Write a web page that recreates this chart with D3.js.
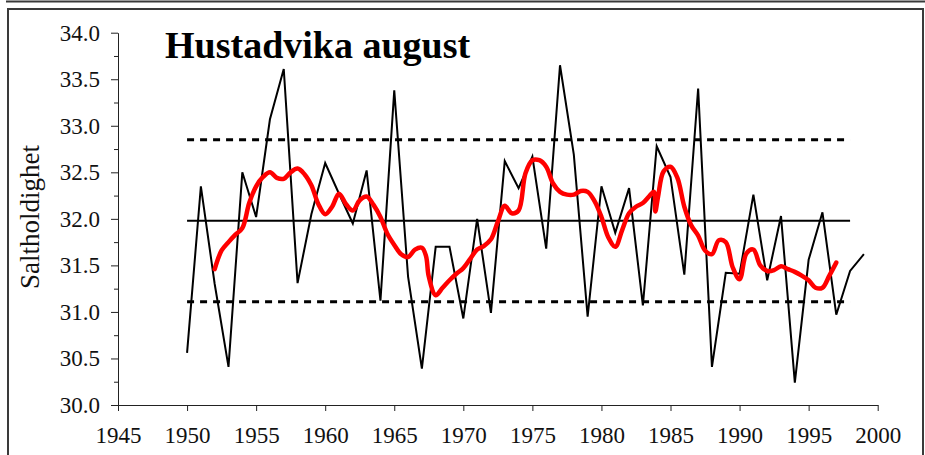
<!DOCTYPE html>
<html>
<head>
<meta charset="utf-8">
<script src="https://cdn.jsdelivr.net/npm/d3@7"></script>
<style>
  html, body { margin:0; padding:0; background:#fff; }
  #chart svg { display:block; }
  .axis path, .axis line { stroke:#222; stroke-width:1; }
  .axis text { font-family:"Liberation Serif","Times New Roman",serif; font-size:23px; fill:#111; }
  .frame { fill:none; stroke:#3a3a3a; stroke-width:2; }
</style>
</head>
<body>
<div id="chart"></div>
<script>
// Hustadvika august — salinity per year, 5-yr smoothed curve, mean and +/- 1 std
const years = [1950,1951,1952,1953,1954,1955,1956,1957,1958,1959,
               1960,1961,1962,1963,1964,1965,1966,1967,1968,1969,
               1970,1971,1972,1973,1974,1975,1976,1977,1978,1979,
               1980,1981,1982,1983,1984,1985,1986,1987,1988,1989,
               1990,1991,1992,1993,1994,1995,1996,1997,1998,1999];
const salinity = [30.56,32.35,31.30,30.41,32.50,32.02,33.07,33.61,31.31,32.05,
                  32.60,32.27,31.95,32.52,31.12,33.38,31.38,30.39,31.70,31.70,
                  30.93,32.00,30.99,32.62,32.33,32.67,31.68,33.65,32.69,30.95,
                  32.35,31.85,32.33,31.07,32.78,32.45,31.40,33.40,30.41,31.42,
                  31.41,32.26,31.34,32.03,30.24,31.56,32.07,30.97,31.44,31.62];

// smoothed curve
const trendYears = [1952,1952.5,1953,1953.5,1954,1954.5,1955,1955.5,1956,1956.5,1957,1957.5,1958,1958.5,1959,1959.5,
                    1960,1960.5,1961,1961.5,1962,1962.5,1963,1963.5,1964,1964.5,1965,1965.5,1966,1966.5,1967,1967.3,1967.5,
                    1968,1968.5,1969,1969.5,1970,1970.5,1971,1971.5,1972,1972.5,1973,1973.5,1974,1974.5,1975,1975.5,
                    1976,1976.5,1977,1977.5,1978,1978.5,1979,1979.5,1980,1980.5,1981,1981.5,1982,1982.5,1983,1983.5,
                    1983.8,1983.9,1984.1,1984.5,1985,1985.5,1986,1986.5,1987,1987.5,1988,1988.5,1989,1989.5,
                    1990,1990.5,1991,1991.5,1992,1992.5,1993,1993.5,1994,1994.5,1995,1995.5,1996,1996.5,1997];
const trendValues = [31.46,31.66,31.75,31.83,31.90,32.17,32.35,32.45,32.50,32.44,32.43,32.50,32.54,32.48,32.36,32.16,
                     32.05,32.13,32.27,32.16,32.09,32.20,32.24,32.15,32.02,31.84,31.72,31.62,31.59,31.67,31.69,31.60,31.38,
                     31.18,31.26,31.34,31.41,31.47,31.57,31.67,31.71,31.78,31.97,32.14,32.06,32.09,32.49,32.63,32.63,
                     32.56,32.38,32.29,32.26,32.26,32.30,32.29,32.19,32.02,31.80,31.70,31.88,32.06,32.13,32.17,32.25,
                     32.29,32.08,32.24,32.51,32.56,32.44,32.13,31.93,31.82,31.66,31.62,31.77,31.75,31.48,
                     31.35,31.63,31.67,31.50,31.44,31.45,31.49,31.46,31.43,31.39,31.34,31.26,31.26,31.39,31.53];

const meanValue  = 31.98;
const bandValues = [31.11, 32.85];
const refYears   = [1950, 1998];

const yTicks = [30.0,30.5,31.0,31.5,32.0,32.5,33.0,33.5,34.0];
const yMinor = [30.25,30.75,31.25,31.75,32.25,32.75,33.25,33.75];
const xTicks = [1945,1950,1955,1960,1965,1970,1975,1980,1985,1990,1995,2000];

(function() {
    const totalW = 925, totalH = 455;
    const margin = { top:32.7, left:118, right:47.3, bottom:50 };
    const W = totalW-margin.left-margin.right, H = totalH-margin.top-margin.bottom;

    const root = d3.select("#chart").append("svg").attr("width",totalW).attr("height",totalH);

    // frames
    root.append("line").attr("x1",6).attr("x2",925).attr("y1",1.5).attr("y2",1.5)
        .attr("stroke","#3a3a3a").attr("stroke-width",2);
    root.append("rect").attr("class","frame").attr("x",8).attr("y",9).attr("width",915).attr("height",460);

    const svg = root.append("g").attr("transform",`translate(${margin.left},${margin.top})`);

    const x = d3.scaleLinear().domain([1945,2000]).range([0,W]);
    const y = d3.scaleLinear().domain([30,34]).range([H,0]);

    // axes
    svg.append("g").attr("class","axis")
        .call(d3.axisLeft(y).tickValues(yMinor).tickSize(4).tickSizeOuter(0).tickFormat(""))
        .select(".domain").remove();
    svg.append("g").attr("class","axis")
        .call(d3.axisLeft(y).tickValues(yTicks).tickSize(7).tickSizeOuter(0).tickPadding(11).tickFormat(d3.format(".1f")));
    svg.append("g").attr("class","axis").attr("transform",`translate(0,${H})`)
        .call(d3.axisBottom(x).tickValues(xTicks).tickSize(6).tickSizeOuter(0).tickPadding(16).tickFormat(d3.format("d")));

    // mean and std lines
    svg.append("line").attr("x1",x(refYears[0])).attr("x2",x(refYears[1]))
        .attr("y1",y(meanValue)).attr("y2",y(meanValue))
        .attr("stroke","#000").attr("stroke-width",2);
    svg.selectAll(".band").data(bandValues).enter().append("line").attr("class","band")
        .attr("x1",x(refYears[0])).attr("x2",x(refYears[1]))
        .attr("y1",d=>y(d)).attr("y2",d=>y(d))
        .attr("stroke","#000").attr("stroke-width",3).attr("stroke-dasharray","7,6");

    // annual values
    const data = years.map((yr,i)=>({year:yr, value:salinity[i]}));
    svg.append("path").datum(data)
        .attr("fill","none").attr("stroke","#000").attr("stroke-width",2).attr("stroke-linejoin","miter")
        .attr("d", d3.line().x(d=>x(d.year)).y(d=>y(d.value)));

    // smoothed curve
    const trend = trendYears.map((yr,i)=>({year:yr, value:trendValues[i]}));
    svg.append("path").datum(trend)
        .attr("fill","none").attr("stroke","#ff0000").attr("stroke-width",4.5)
        .attr("stroke-linejoin","round").attr("stroke-linecap","round")
        .attr("d", d3.line().x(d=>x(d.year)).y(d=>y(d.value)).curve(d3.curveCatmullRom.alpha(0.5)));

    // titles
    root.append("text").attr("x",165).attr("y",58)
        .style("font-family","'Liberation Serif','Times New Roman',serif").style("font-size","38px")
        .style("font-weight","bold").attr("fill","#000").text("Hustadvika august");
    root.append("text").attr("transform","translate(39,217) rotate(-90)").attr("text-anchor","middle")
        .style("font-family","'Liberation Serif','Times New Roman',serif").style("font-size","27px")
        .attr("fill","#111").text("Saltholdighet");
})();
</script>
</body>
</html>
